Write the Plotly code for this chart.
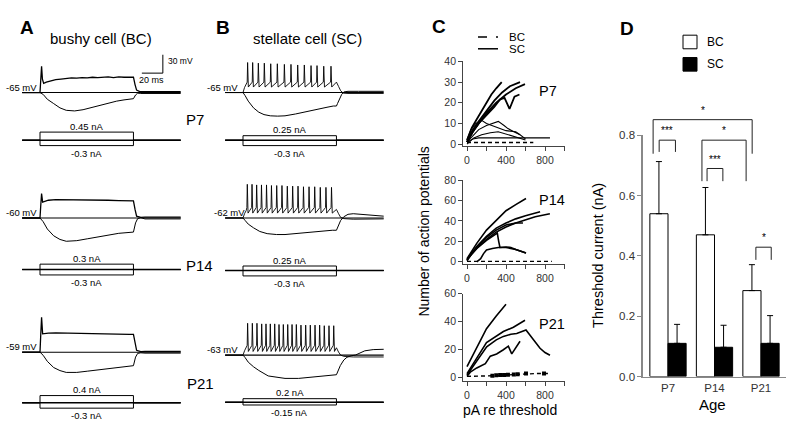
import plotly.graph_objects as go

W, H = 800, 436
FONT = "Liberation Sans, Arial, Helvetica, sans-serif"

# ====================== DATA ======================
# Panels A/B: membrane potential (mV relative to rest) vs time (ms from step onset)
STEP_DUR = 89
T_START, T_END = -17, 134
REST = {"A7": -65, "B7": -65, "A14": -60, "B14": -62, "A21": -59, "B21": -63}
I_POS = {"A7": 0.45, "B7": 0.25, "A14": 0.3, "B14": 0.25, "A21": 0.4, "B21": 0.2}
I_NEG = {"A7": -0.3, "B7": -0.3, "A14": -0.3, "B14": -0.3, "A21": -0.3, "B21": -0.15}

# bushy cells: depolarising and hyperpolarising responses
A7_DEP_T = [-17, 0, 0.7, 1.5, 2.3, 3.5, 6, 10, 15, 20, 25, 30, 35, 40, 45, 50, 55, 60, 65, 70, 75, 80, 85, 89, 90.5, 92, 95, 100, 134]
A7_DEP_V = [0, 0, 20, 43, 22, 15, 17, 19, 21, 22, 23, 24, 23.5, 24.5, 24, 25, 24.5, 25, 25.5, 24.5, 25.5, 25, 25.5, 25, 13, 4, 1.5, 1.5, 1.5]
A7_HYP_T = [-17, 0, 3, 7, 13, 19, 25, 33, 41, 50, 57, 65, 73, 80, 87, 89, 91, 93, 96, 100, 134]
A7_HYP_V = [0, 0, -3, -11, -18, -25, -29, -30, -28, -24, -20, -17, -14, -12, -10, -10, -4, -1, -1.5, -1.5, -1.5]

A14_DEP_T = [-17, 0, 0.7, 1.5, 2.5, 4, 8, 15, 25, 35, 45, 55, 65, 75, 85, 89, 90.5, 92, 96, 100, 134]
A14_DEP_V = [0, 0, 20, 40, 26, 27, 29, 30, 30, 29.5, 29.5, 29, 29, 28.5, 28, 28, 14, 3, 1, 1.5, 1.5]
A14_HYP_T = [-17, 0, 3, 7, 13, 19, 25, 35, 45, 55, 65, 75, 89, 91, 93, 96, 100, 134]
A14_HYP_V = [0, 0, -6, -18, -29, -35, -38, -37, -34, -31, -28, -25, -23, -8, -1, 0.5, -1.5, -1.5]

A21_DEP_T = [-17, 0, 0.7, 1.5, 2.5, 4, 8, 15, 25, 35, 45, 55, 65, 75, 85, 89, 90.5, 92, 96, 100, 134]
A21_DEP_V = [0, 0, 28, 57, 30, 30, 31, 31.5, 31, 30.5, 30, 30, 29.5, 29.5, 29, 29, 14, 3, 1, 1.5, 1.5]
A21_HYP_T = [-17, 0, 3, 7, 13, 19, 25, 35, 45, 55, 65, 75, 89, 91, 93, 96, 100, 134]
A21_HYP_V = [0, 0, -5, -15, -25, -30, -33, -33, -31, -29, -27, -25, -22, -8, -2, -1, -1.5, -1.5]

# stellate cells: spike times (ms), spike peaks, AHP / threshold levels, hyperpolarising response
B7_SPIKES = [4.4, 9.2, 14.6, 20.3, 26.4, 32.7, 39.4, 45.7, 52.1, 58.4, 64.8, 70.5, 76.9, 83.8]
B7_PEAKS = [49, 49, 48, 48, 47, 47, 46, 46, 45, 45, 44, 44, 43, 43]
B7_LEVELS = {"onset": 14, "ahp": 9, "thr": 17, "end": 17}
B7_POST_T = [91, 93, 95.5, 100, 134]
B7_POST_V = [10, 3, -1, -1.5, -1.5]
B7_HYP_T = [-17, 0, 2, 5, 10, 15, 20, 26, 33, 40, 50, 60, 70, 80, 86, 89, 90, 92, 94, 96, 100, 110, 134]
B7_HYP_V = [0, 0, -5, -14, -25, -32, -36, -38, -38.5, -38, -35, -31, -27, -24, -22, -22, -18, -10, -3, 1, 2, 2, 2]

B14_SPIKES = [4.1, 8.6, 13.0, 17.6, 22.4, 27.1, 32.1, 37.1, 42.2, 47.3, 52.4, 57.6, 62.9, 68.3, 73.6, 79.0, 84.3]
B14_PEAKS = [55, 55, 54, 54, 54, 53, 53, 53, 52, 52, 52, 51, 51, 51, 50, 50, 50]
B14_LEVELS = {"onset": 12, "ahp": 8, "thr": 17, "end": 14}
B14_POST_T = [91, 93, 96, 105, 134]
B14_POST_V = [7, 1, -1, -2, -1.5]
B14_HYP_T = [-17, 0, 2, 5, 10, 16, 23, 32, 40, 54, 70, 85, 89, 91, 93, 96, 100, 105, 112, 120, 134]
B14_HYP_V = [0, 0, -4, -10, -16, -22, -25.5, -27, -27, -24.5, -22, -20, -20, -12, -4, 2, 6, 7, 6, 5, 3]

B21_SPIKES = [4.4, 8.9, 13.3, 17.8, 21.9, 26.0, 30.2, 34.3, 38.4, 42.6, 46.7, 50.8, 55.2, 59.7, 64.1, 68.6, 73.0, 77.4, 81.9, 86.4]
B21_PEAKS = [52, 52, 52, 51, 51, 51, 51, 50, 50, 50, 50, 50, 49, 49, 49, 49, 49, 48, 48, 48]
B21_LEVELS = {"onset": 12, "ahp": 6, "thr": 16, "end": 12}
B21_POST_T = [91, 93, 96, 105, 134]
B21_POST_V = [5, 0, -2, -3, -3]
B21_HYP_T = [-17, 0, 2, 5, 10, 15, 24, 32, 40, 53, 63, 72, 88, 89, 92.7, 96, 99, 103, 107, 112, 116, 124, 134]
B21_HYP_V = [0, 0, -4, -11.5, -19, -25, -34, -36.5, -38, -38, -36.5, -35, -32, -32, -17, -8, -3.5, -1, 0, 4, 7, 9, 9.5]

# Panel C: number of action potentials vs injected current re threshold (pA)
P7_SC_MAIN_X = [[0, 50, 100, 150, 200, 250, 300, 356],
                [0, 60, 120, 200, 280, 360, 440, 544],
                [0, 60, 120, 200, 300, 400, 500, 595],
                [0, 60, 120, 200, 280, 338, 385, 436, 487, 538]]
P7_SC_MAIN_Y = [[2, 8, 12, 16, 20, 24, 27, 30],
                [1, 7, 11, 16, 21, 25, 28, 30],
                [1, 6, 10, 15, 20, 24, 27, 29],
                [1, 6, 10, 14, 18, 21.6, 22.4, 17, 23, 24]]
P7_SC_MINOR_X = [[0, 40, 90, 150, 200, 260, 300, 400, 500, 544],
                 [0, 60, 120, 200, 260, 321, 380, 420, 480, 544, 600],
                 [0, 70, 150, 240, 320, 390, 475, 544, 600],
                 [0, 60, 120, 851]]
P7_SC_MINOR_Y = [[2, 7, 10, 11.5, 10, 9, 8, 6.5, 6, 4.5],
                 [1, 4, 7, 9, 10, 11, 9, 7.5, 6, 4.5, 2.5],
                 [0, 3, 4.5, 5.5, 6, 5, 4, 3, 2],
                 [1, 2.5, 3, 3]]
P7_BC_X = [[0, 100, 200, 300, 400, 500, 600, 680]]
P7_BC_Y = [[0.8, 0.8, 0.8, 0.8, 0.8, 0.8, 0.8, 0.8]]

P14_SC_X = [[0, 50, 100, 200, 300, 400, 500, 605],
            [0, 50, 100, 200, 300, 400, 500, 600, 700, 750],
            [0, 50, 100, 200, 300, 400, 500, 600, 700, 850],
            [0, 50, 100, 200, 300, 400, 500, 574],
            [0, 50, 100, 200, 311, 325, 338, 400, 450, 500, 560, 605],
            [100, 140, 170, 200, 260, 321, 400, 500, 605]]
P14_SC_Y = [[3, 11, 18, 31, 41, 50, 56, 62],
            [2, 9, 15, 25, 33, 38, 42, 45, 48, 49],
            [1, 8, 13, 22, 29, 34, 38, 41, 44, 47],
            [2, 9, 14, 24, 31, 36, 38, 38],
            [2, 8, 13, 21, 28, 20, 14, 14.5, 14, 12, 10, 8.5],
            [0, 3, 8, 11.5, 13, 14, 14, 12, 8.5]]
P14_BC_X = [[0, 200, 400, 600, 870]]
P14_BC_Y = [[0.4, 0.4, 0.4, 0.4, 0.4]]

P21_SC_X = [[0, 50, 100, 200, 300, 400],
            [0, 50, 100, 200, 300, 373, 476, 595],
            [0, 50, 100, 202, 300, 373, 450, 510, 605, 640, 680, 715, 749, 800, 851],
            [0, 34, 100, 137, 188, 239, 304, 373, 424, 459, 510, 544]]
P21_SC_Y = [[8, 15, 22, 35, 44, 52.4],
            [3, 9, 14, 25, 30, 33, 36, 41],
            [2, 7, 12, 22, 27, 29.5, 31, 31.5, 34, 31, 27, 24, 21, 18, 16],
            [1, 4, 7, 8.5, 10, 15.4, 17, 20, 22.5, 17, 22, 26]]
P21_BC_X = [[0, 100, 200, 300, 400, 500, 600, 700, 850]]
P21_BC_Y = [[1, 1, 1, 1.5, 2, 2.5, 3, 3, 3]]
P21_BC_PTS_X = [260, 300, 340, 380, 420, 480, 520, 605, 790]
P21_BC_PTS_Y = [1.5, 1.8, 2, 2, 2.2, 2.3, 2.5, 3, 3]

# Panel D: threshold current (nA), mean and upward error
AGES = ["P7", "P14", "P21"]
BC_MEAN = [0.54, 0.47, 0.285]
BC_ERR = [0.173, 0.157, 0.086]
SC_MEAN = [0.11, 0.097, 0.11]
SC_ERR = [0.063, 0.073, 0.092]
# significance brackets: (x left, x right, y top, y bottom, label)
BRACKETS = [(-0.19, 0.16, 0.784, 0.745, "***"),
            (-0.32, 1.81, 0.852, 0.739, "*"),
            (0.73, 1.68, 0.784, 0.648, "*"),
            (0.84, 1.18, 0.690, 0.648, "***"),
            (1.89, 2.22, 0.429, 0.387, "*")]

# ====================== LAYOUT GEOMETRY (pixels) ======================
PX_PER_MS = 1.05
PX_PER_MV = 0.63
PX_PER_NA = 18.5
# panel: (step onset x px, rest y px, current baseline y px)
GEOM = {"A7": (40, 89, 138), "B7": (243, 89, 138),
        "A14": (40, 218, 271), "B14": (243, 218, 272),
        "A21": (40, 356, 408), "B21": (243, 359, 407.5)}

fig = go.Figure()
layout = {}
annotations = []
shapes = []


def names(i):
    s = "" if i == 1 else str(i)
    return "xaxis" + s, "yaxis" + s, "x" + s, "y" + s


def add_axes(i, xpx, ypx, xr, yr, xopts=None, yopts=None):
    xa, ya, xref, yref = names(i)
    xd = dict(domain=[xpx[0] / W, xpx[1] / W], range=xr, anchor=yref, visible=False,
              fixedrange=True, showgrid=False, zeroline=False)
    yd = dict(domain=[1 - ypx[1] / H, 1 - ypx[0] / H], range=yr, anchor=xref, visible=False,
              fixedrange=True, showgrid=False, zeroline=False)
    if xopts:
        xd.update(xopts)
    if yopts:
        yd.update(yopts)
    layout[xa] = xd
    layout[ya] = yd
    return xref, yref


def note(s, px, py, size, xanchor="center", yanchor="middle", bold=False, angle=0, color="black"):
    annotations.append(dict(text=("<b>%s</b>" % s) if bold else s, x=px / W, y=1 - py / H,
                            xref="paper", yref="paper", showarrow=False, xanchor=xanchor,
                            yanchor=yanchor, textangle=angle,
                            font=dict(family=FONT, size=size, color=color)))


def line(xs, ys, xref, yref, width=1.0, color="black", dash=None):
    fig.add_trace(go.Scatter(x=xs, y=ys, xaxis=xref, yaxis=yref, mode="lines",
                             line=dict(color=color, width=width, dash=dash),
                             hoverinfo="skip", showlegend=False))


def spiking(spikes, peaks, lv, post_t, post_v):
    t = [T_START, 0, 1.5, 3]
    v = [0, 0, 0.6 * lv["onset"], lv["onset"]]
    for ts, pk in zip(spikes, peaks):
        t += [ts - 0.4, ts, ts + 0.7]
        v += [lv["thr"], pk, lv["ahp"]]
    t += [STEP_DUR] + post_t
    v += [lv["end"]] + post_v
    return t, v


traces = {
    "A7": [(A7_DEP_T, A7_DEP_V, 1.3), (A7_HYP_T, A7_HYP_V, 1.0)],
    "A14": [(A14_DEP_T, A14_DEP_V, 1.3), (A14_HYP_T, A14_HYP_V, 1.0)],
    "A21": [(A21_DEP_T, A21_DEP_V, 1.3), (A21_HYP_T, A21_HYP_V, 1.0)],
    "B7": [spiking(B7_SPIKES, B7_PEAKS, B7_LEVELS, B7_POST_T, B7_POST_V) + (0.9,),
           (B7_HYP_T, B7_HYP_V, 1.0)],
    "B14": [spiking(B14_SPIKES, B14_PEAKS, B14_LEVELS, B14_POST_T, B14_POST_V) + (0.9,),
            (B14_HYP_T, B14_HYP_V, 1.0)],
    "B21": [spiking(B21_SPIKES, B21_PEAKS, B21_LEVELS, B21_POST_T, B21_POST_V) + (0.9,),
            (B21_HYP_T, B21_HYP_V, 1.0)],
}

ax_i = 1
for key in ["A7", "B7", "A14", "B14", "A21", "B21"]:
    onset_px, rest_px, ibase_px = GEOM[key]
    rest = REST[key]
    # voltage axes
    xr = [-20, 140]
    xpx = [onset_px + xr[0] * PX_PER_MS, onset_px + xr[1] * PX_PER_MS]
    yr = [rest - 50, rest + 65]
    ypx = [rest_px - 65 * PX_PER_MV, rest_px + 50 * PX_PER_MV]
    xref, yref = add_axes(ax_i, xpx, ypx, xr, yr)
    ax_i += 1
    line([T_START, T_END], [rest, rest], xref, yref, 1.1)
    for t, v, w in traces[key]:
        line(t, [rest + vv for vv in v], xref, yref, w)
    if key == "A7":
        # scale bar: 20 ms, 30 mV
        sb_t, sb_v = 117, rest + 31.7
        line([sb_t - 20, sb_t, sb_t], [sb_v, sb_v, sb_v + 30], xref, yref, 1.0)
    # current axes
    cr = 20 / PX_PER_NA
    xref, yref = add_axes(ax_i, xpx, [ibase_px - 20, ibase_px + 20], xr, [-cr, cr])
    ax_i += 1
    cur_t = [T_START, 0, 0, STEP_DUR, STEP_DUR, T_END]
    line([T_START, T_END], [0, 0], xref, yref, 1.4)
    for amp in (I_POS[key], I_NEG[key]):
        line(cur_t, [0, 0, amp, amp, 0, 0], xref, yref, 1.0)
    cx = onset_px + STEP_DUR / 2 * PX_PER_MS
    note("%g nA" % I_POS[key], cx, ibase_px - I_POS[key] * PX_PER_NA - 6, 9.5)
    note("%g nA" % I_NEG[key], cx, ibase_px - I_NEG[key] * PX_PER_NA + 8, 9.5)
    # resting potential label
    lab_x = 38.5 if key.startswith("A") else (247 if key == "B14" else 240)
    note("%d mV" % rest, lab_x, rest_px - 5.5, 9.5, xanchor="right")

# ---- Panel C ----
C_GEOM = [  # (y px of 0, px per unit, y range, y ticks)
    (142, 2.125, [-1, 40], [0, 10, 20, 30, 40]),
    (263, 1.05, [-2.5, 80], [0, 20, 40, 60, 80]),
    (382.3, 1.443, [-2.5, 60], [0, 20, 40, 60]),
]
C_XR = [-40, 1000]
C_X0PX, C_PXU = 467, 0.0975
c_xpx = [C_X0PX + C_XR[0] * C_PXU, C_X0PX + C_XR[1] * C_PXU]
axis_col = "#444"
c_refs = []
for y0px, pxu, yr, yt in C_GEOM:
    ypx = [y0px - yr[1] * pxu, y0px - yr[0] * pxu]
    xo = dict(visible=True, showline=True, linecolor=axis_col, linewidth=1, ticks="outside",
              ticklen=4, tickcolor=axis_col, tickvals=[0, 400, 800],
              tickfont=dict(family=FONT, size=10.5, color="#333"),
              minor=dict(ticks="outside", tickvals=[200, 600, 1000], ticklen=4, tickcolor=axis_col))
    yo = dict(visible=True, showline=True, linecolor=axis_col, linewidth=1, ticks="outside",
              ticklen=4, tickcolor=axis_col, tickvals=yt,
              tickfont=dict(family=FONT, size=10.5, color="#333"))
    c_refs.append(add_axes(ax_i, c_xpx, ypx, C_XR, yr, xo, yo))
    ax_i += 1

(xr7, yr7), (xr14, yr14), (xr21, yr21) = c_refs
for xs, ys in zip(P7_SC_MAIN_X, P7_SC_MAIN_Y):
    line(xs, ys, xr7, yr7, 1.8)
for xs, ys in zip(P7_SC_MINOR_X, P7_SC_MINOR_Y):
    line(xs, ys, xr7, yr7, 1.1)
for xs, ys in zip(P7_BC_X, P7_BC_Y):
    line(xs, ys, xr7, yr7, 1.4, dash="4px,3px")
for xs, ys in zip(P14_SC_X, P14_SC_Y):
    line(xs, ys, xr14, yr14, 1.6)
for xs, ys in zip(P14_BC_X, P14_BC_Y):
    line(xs, ys, xr14, yr14, 1.4, dash="4px,3px")
for xs, ys in zip(P21_SC_X, P21_SC_Y):
    line(xs, ys, xr21, yr21, 1.6)
for xs, ys in zip(P21_BC_X, P21_BC_Y):
    line(xs, ys, xr21, yr21, 1.4, dash="4px,3px")
fig.add_trace(go.Scatter(x=P21_BC_PTS_X, y=P21_BC_PTS_Y, xaxis=xr21, yaxis=yr21, mode="markers",
                         marker=dict(symbol="square", size=4, color="black"),
                         hoverinfo="skip", showlegend=False))

# ---- Panel D ----
D_X0PX, D_PXU = 668, 46.5
D_XR = [-0.54, 2.54]
d_xpx = [D_X0PX + D_XR[0] * D_PXU, D_X0PX + D_XR[1] * D_PXU]
D_Y0PX, D_PYU = 381, 310
dgrey = "#888"
xo = dict(visible=True, showline=True, linecolor=dgrey, linewidth=1.5, ticks="",
          tickvals=[0, 1, 2], ticktext=AGES, tickfont=dict(family=FONT, size=11.5, color="#333"))
yo = dict(visible=True, showline=True, linecolor=dgrey, linewidth=1.5, ticks="outside", ticklen=4,
          tickcolor=dgrey, tickvals=[0, 0.2, 0.4, 0.6, 0.8], tickformat=".1f",
          tickfont=dict(family=FONT, size=11.5, color="#333"))
dx, dy = add_axes(ax_i, d_xpx, [D_Y0PX - 0.8 * D_PYU, D_Y0PX], D_XR, [0, 0.8], xo, yo)
ax_i += 1
BW = 0.39
fig.add_trace(go.Bar(x=[0, 1, 2], y=BC_MEAN, width=BW, offset=-BW, xaxis=dx, yaxis=dy,
                     marker=dict(color="white", line=dict(color="black", width=1)),
                     error_y=dict(type="data", array=BC_ERR, arrayminus=[0, 0, 0], symmetric=False,
                                  color="black", thickness=1, width=3),
                     hoverinfo="skip", showlegend=False))
fig.add_trace(go.Bar(x=[0, 1, 2], y=SC_MEAN, width=BW, offset=0, xaxis=dx, yaxis=dy,
                     marker=dict(color="black", line=dict(color="black", width=1)),
                     error_y=dict(type="data", array=SC_ERR, arrayminus=[0, 0, 0], symmetric=False,
                                  color="black", thickness=1, width=3),
                     hoverinfo="skip", showlegend=False))
# overlay axes for brackets (same scale, taller)
bx, by = add_axes(ax_i, d_xpx, [100, D_Y0PX], D_XR, [0, (D_Y0PX - 100) / D_PYU])
ax_i += 1
for xl, xrr, yt, yb, lab in BRACKETS:
    line([xl, xl, xrr, xrr], [yb, yt, yt, yb], bx, by, 1.0, color="#222")
    cxp = D_X0PX + (xl + xrr) / 2 * D_PXU
    cyp = D_Y0PX - yt * D_PYU
    note(lab, cxp, cyp - 2, 10, yanchor="bottom", color="black")

# ---- legends (decoration) ----
def pline(x0, x1, yp, dash=None, width=1.5):
    shapes.append(dict(type="line", xref="paper", yref="paper", x0=x0 / W, x1=x1 / W,
                       y0=1 - yp / H, y1=1 - yp / H,
                       line=dict(color="black", width=width, dash=dash)))

pline(478, 498, 32, dash="dash")
pline(478, 498, 44)
note("BC", 507, 32, 11.5, xanchor="left")
note("SC", 507, 44, 11.5, xanchor="left")
for (y0, y1, fill, lab, ly) in [(30, 44, "white", "BC", 37), (53, 67, "black", "SC", 60)]:
    shapes.append(dict(type="rect", xref="paper", yref="paper", x0=683 / W, x1=697 / W,
                       y0=1 - y1 / H, y1=1 - y0 / H, fillcolor=fill,
                       line=dict(color="black", width=1)))
    note(lab, 705, ly, 12, xanchor="left")

# ---- titles and labels ----
note("A", 27, 22, 19, bold=True)
note("B", 223, 22, 19, bold=True)
note("C", 439, 21, 19, bold=True)
note("D", 627, 23, 19, bold=True)
note("bushy cell (BC)", 101, 33, 15)
note("stellate cell (SC)", 307, 33, 15)
note("30 mV", 166, 57, 8.5, xanchor="left")
note("20 ms", 151, 76, 9)
note("P7", 195, 117, 15)
note("P14", 199, 267, 15)
note("P21", 200, 388, 15)
note("P7", 537, 87, 14.5, xanchor="left")
note("P14", 537, 199, 14.5, xanchor="left")
note("P21", 537, 327, 14.5, xanchor="left")
note("Number of action potentials", 424, 232, 14, angle=-90)
note("pA re threshold", 510, 415, 14)
note("Threshold current (nA)", 598, 257, 14.5, angle=-90)
note("Age", 712, 410, 15)

layout.update(dict(width=W, height=H, margin=dict(l=0, r=0, t=0, b=0),
                   paper_bgcolor="white", plot_bgcolor="rgba(0,0,0,0)",
                   showlegend=False, annotations=annotations, shapes=shapes,
                   font=dict(family=FONT, color="black")))
fig.update_layout(**layout)
fig.write_html("out.html", config={"displayModeBar": False, "staticPlot": True},
               post_script="document.body.style.margin='0';document.body.style.overflow='hidden';")
